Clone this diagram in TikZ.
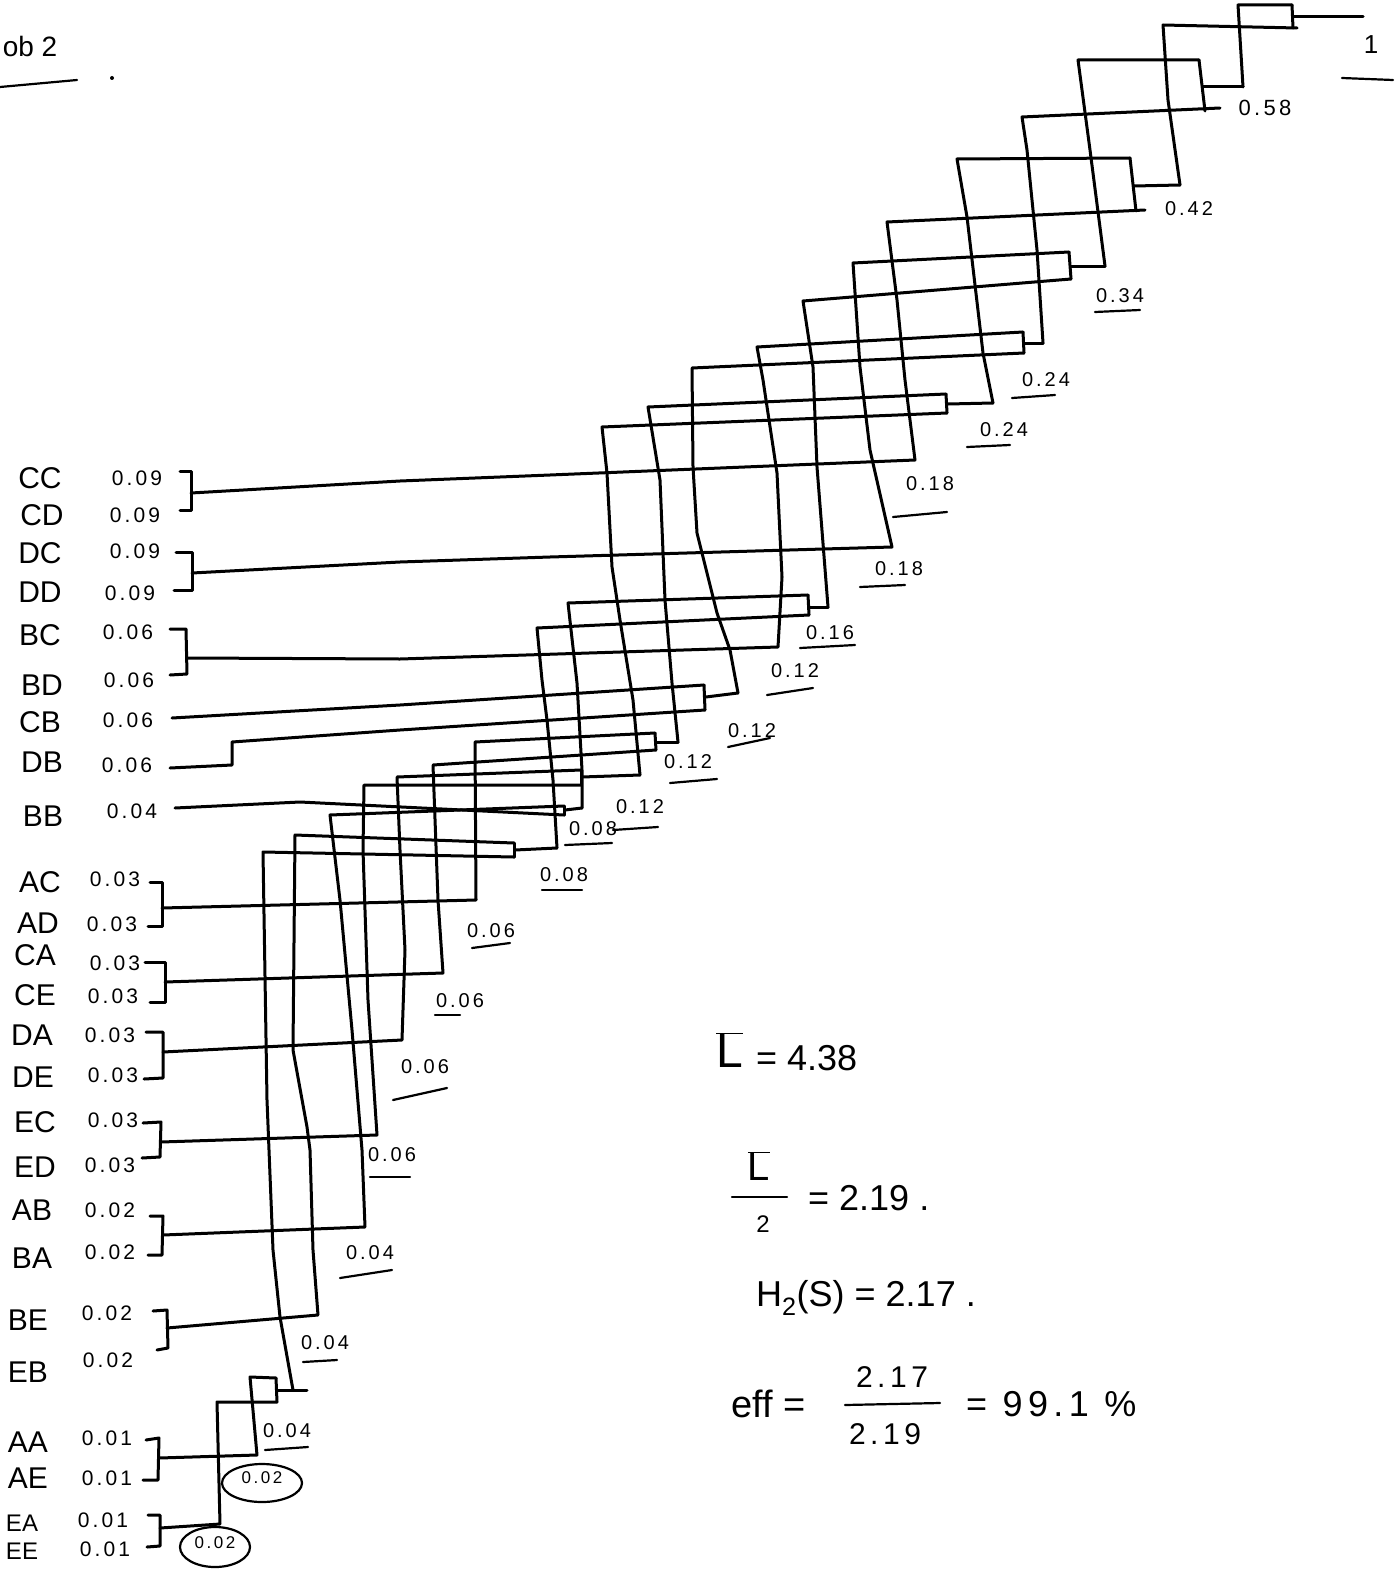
\documentclass[tikz,border=0pt]{standalone}
\usepackage{fontspec}
\setmainfont{Liberation Sans}
\newfontfamily\spacedfont[LetterSpace=15]{Liberation Sans}
\begin{document}
\begin{tikzpicture}[x=1pt,y=-1pt,
  pen/.style={line width=3pt,line cap=round,line join=round},
  thinpen/.style={line width=2.2pt,line cap=round},
  leafname/.style={inner sep=0pt,font=\fontsize{30}{32}\selectfont},
  leafval/.style={inner sep=0pt,font=\spacedfont\fontsize{21}{22}\selectfont},
  sumlab/.style={inner sep=0pt,font=\spacedfont\fontsize{20}{22}\selectfont},
  bigtxt/.style={inner sep=0pt,anchor=west,font=\fontsize{36}{40}\selectfont}]
\useasboundingbox (0,0) rectangle (1396,1573);

% title
\node[inner sep=0pt,font=\fontsize{28}{30}\selectfont] (title) at (30,46) {ob 2};
\draw[thinpen] (0,87) -- (77,80);
\fill (112,78) circle (2pt);
\node[inner sep=0pt,font=\fontsize{26}{28}\selectfont] (root) at (1371,45) {1};
\draw[thinpen] (1342,78) -- (1393,80);

% leaves
\node[leafname] (nCC) at (40,478) {CC};  \node[leafval] (vCC) at (137,478) {0.09};
\node[leafname] (nCD) at (42,515) {CD};  \node[leafval] (vCD) at (135,515) {0.09};
\node[leafname] (nDC) at (40,553) {DC};  \node[leafval] (vDC) at (135,551) {0.09};
\node[leafname] (nDD) at (40,592) {DD};  \node[leafval] (vDD) at (130,593) {0.09};
\node[leafname] (nBC) at (40,635) {BC};  \node[leafval] (vBC) at (128,632) {0.06};
\node[leafname] (nBD) at (42,685) {BD};  \node[leafval] (vBD) at (129,680) {0.06};
\node[leafname] (nCB) at (40,722) {CB};  \node[leafval] (vCB) at (128,720) {0.06};
\node[leafname] (nDB) at (42,762) {DB};  \node[leafval] (vDB) at (127,765) {0.06};
\node[leafname] (nBB) at (43,816) {BB};  \node[leafval] (vBB) at (132,811) {0.04};
\node[leafname] (nAC) at (40,882) {AC};  \node[leafval] (vAC) at (115,879) {0.03};
\node[leafname] (nAD) at (38,923) {AD};  \node[leafval] (vAD) at (112,924) {0.03};
\node[leafname] (nCA) at (35,955) {CA};  \node[leafval] (vCA) at (115,963) {0.03};
\node[leafname] (nCE) at (35,995) {CE};  \node[leafval] (vCE) at (113,996) {0.03};
\node[leafname] (nDA) at (32,1035) {DA}; \node[leafval] (vDA) at (110,1035) {0.03};
\node[leafname] (nDE) at (33,1077) {DE}; \node[leafval] (vDE) at (113,1075) {0.03};
\node[leafname] (nEC) at (35,1122) {EC}; \node[leafval] (vEC) at (113,1120) {0.03};
\node[leafname] (nED) at (35,1167) {ED}; \node[leafval] (vED) at (110,1165) {0.03};
\node[leafname] (nAB) at (32,1210) {AB}; \node[leafval] (vAB) at (110,1210) {0.02};
\node[leafname] (nBA) at (32,1258) {BA}; \node[leafval] (vBA) at (110,1252) {0.02};
\node[leafname] (nBE) at (28,1320) {BE}; \node[leafval] (vBE) at (107,1313) {0.02};
\node[leafname] (nEB) at (28,1372) {EB}; \node[leafval] (vEB) at (108,1360) {0.02};
\node[leafname] (nAA) at (28,1442) {AA}; \node[leafval] (vAA) at (107,1438) {0.01};
\node[leafname] (nAE) at (28,1478) {AE}; \node[leafval] (vAE) at (107,1478) {0.01};
\node[leafname,font=\fontsize{24}{26}\selectfont] (nEA) at (22,1523) {EA}; \node[leafval] (vEA) at (103,1520) {0.01};
\node[leafname,font=\fontsize{24}{26}\selectfont] (nEE) at (22,1551) {EE}; \node[leafval] (vEE) at (105,1549) {0.01};

% leaf brackets and junction coordinates
\draw[pen] (180,471) -- (191,471) -- (191,510) -- (180,510);   \coordinate (jCCCD) at (191,493);
\draw[pen] (176,552) -- (192,552) -- (192,590) -- (174,590);   \coordinate (jDCDD) at (192,573);
\draw[pen] (170,629) -- (186,629) -- (187,674) -- (170,675);   \coordinate (jBCBD) at (187,658);
\draw[pen] (150,882) -- (162,882) -- (162,926) -- (148,926);   \coordinate (jACAD) at (162,908);
\draw[pen] (145,962) -- (165,962) -- (165,1002) -- (150,1002); \coordinate (jCACE) at (165,982);
\draw[pen] (146,1032) -- (163,1032) -- (163,1078) -- (144,1079); \coordinate (jDADE) at (163,1052);
\draw[pen] (143,1123) -- (161,1122) -- (160,1157) -- (142,1158); \coordinate (jECED) at (161,1142);
\draw[pen] (150,1216) -- (163,1216) -- (162,1255) -- (148,1255); \coordinate (jABBA) at (163,1235);
\draw[pen] (153,1311) -- (167,1310) -- (168,1348) -- (157,1350); \coordinate (jBEEB) at (167,1328);
\draw[pen] (146,1440) -- (159,1438) -- (158,1480) -- (143,1480); \coordinate (jAAAE) at (159,1458);
\draw[pen] (148,1515) -- (160,1515) -- (160,1546) -- (147,1547); \coordinate (jEAEE) at (160,1528);
\coordinate (jCB) at (172,718);
\coordinate (jDB) at (170,768);
\coordinate (jBB) at (175,808);

% merge brackets (top, bottom, stub start, stub end)
\coordinate (m3T) at (276,1378);  \coordinate (m3B) at (277,1402);  \coordinate (m3S) at (277,1390);  \coordinate (m3O) at (307,1390);
\coordinate (m10T) at (514,843);  \coordinate (m10B) at (514,857);  \coordinate (m10S) at (515,850);  \coordinate (m10O) at (557,848);
\coordinate (m11T) at (564,806);  \coordinate (m11B) at (564,815);  \coordinate (m11S) at (565,810);  \coordinate (m11O) at (582,808);
\coordinate (m12T) at (581,770);  \coordinate (m12B) at (581,785);  \coordinate (m12S) at (582,777);  \coordinate (m12O) at (640,775);
\coordinate (m13T) at (655,733);  \coordinate (m13B) at (656,750);  \coordinate (m13S) at (657,742);  \coordinate (m13O) at (678,742);
\coordinate (m14T) at (704,685);  \coordinate (m14B) at (705,710);  \coordinate (m14S) at (706,697);  \coordinate (m14O) at (738,693);
\coordinate (m16T) at (808,595);  \coordinate (m16B) at (809,615);  \coordinate (m16S) at (810,607);  \coordinate (m16O) at (828,607);
\coordinate (m19T) at (946,394);  \coordinate (m19B) at (947,413);  \coordinate (m19S) at (948,404);  \coordinate (m19O) at (993,403);
\coordinate (m20T) at (1023,332); \coordinate (m20B) at (1024,353); \coordinate (m20S) at (1025,343); \coordinate (m20O) at (1043,343);
\coordinate (m21T) at (1069,252); \coordinate (m21B) at (1071,279); \coordinate (m21S) at (1071,266); \coordinate (m21O) at (1105,266);
\coordinate (m22T) at (1130,158); \coordinate (m22B) at (1136,211); \coordinate (m22S) at (1134,186); \coordinate (m22O) at (1180,185);
\coordinate (m23T) at (1199,60);  \coordinate (m23B) at (1205,111); \coordinate (m23S) at (1203,87);  \coordinate (m23O) at (1243,87);
\coordinate (m24T) at (1292,5);   \coordinate (m24B) at (1293,28);  \coordinate (m24S) at (1293,17);  \coordinate (m24O) at (1363,17);

\foreach \m in {3,10,11,12,13,14,16,19,20,21,22,23,24}{
  \draw[pen] (m\m T) -- (m\m B);
  \draw[pen] (m\m S) -- (m\m O);
}

% paths
\draw[pen] (jEAEE) -- (220,1524) -- (217,1402) -- (m3B);
\draw[pen] (jAAAE) -- (257,1455) -- (250,1377) -- (m3T);
\draw[pen] (293,1390) -- (280,1317) -- (273,1250) -- (267,1100) -- (263,852) -- (m10B);
\draw[pen] (jBEEB) -- (318,1315) -- (313,1250) -- (310,1150) -- (307,1127) -- (293,1050) -- (295,835) -- (m10T);
\draw[pen] (jABBA) -- (365,1227) -- (362,1150) -- (352,1030) -- (340,900) -- (330,815) -- (m11T);
\draw[pen] (jBB) -- (300,802) -- (m11B);
\draw[pen] (jECED) -- (377,1135) -- (368,1000) -- (363,850) -- (364,785) -- (m12B);
\draw[pen] (jDADE) -- (402,1040) -- (405,950) -- (400,850) -- (397,777) -- (m12T);
\draw[pen] (jCACE) -- (443,973) -- (438,900) -- (433,765) -- (m13B);
\draw[pen] (jACAD) -- (476,900) -- (475,742) -- (m13T);
\draw[pen] (jCB) -- (400,705) -- (m14T);
\draw[pen] (jDB) -- (232,765) -- (232,742) -- (400,730) -- (m14B);
\draw[pen] (m10O) -- (553,780) -- (547,720) -- (542,680) -- (537,628) -- (m16B);
\draw[pen] (m11O) -- (582,770) -- (577,683) -- (568,603) -- (m16T);
\draw[pen] (m12O) -- (633,700) -- (620,620) -- (612,567) -- (607,473) -- (602,427) -- (m19B);
\draw[pen] (m13O) -- (672,683) -- (665,600) -- (660,480) -- (648,407) -- (m19T);
\draw[pen] (m14O) -- (730,650) -- (717,613) -- (697,533) -- (693,467) -- (692,368) -- (m20B);
\draw[pen] (jBCBD) -- (400,659) -- (778,647) -- (782,577) -- (777,473) -- (763,380) -- (757,347) -- (m20T);
\draw[pen] (m16O) -- (817,467) -- (813,367) -- (803,301) -- (m21B);
\draw[pen] (jDCDD) -- (400,562) -- (550,557) -- (892,547) -- (870,450) -- (860,367) -- (853,263) -- (m21T);
\draw[pen] (jCCCD) -- (400,481) -- (550,475) -- (915,460) -- (905,380) -- (897,300) -- (887,222) -- (1145,210);
\draw[pen] (m19O) -- (983,353) -- (967,217) -- (957,159) -- (m22T);
\draw[pen] (m20O) -- (1037,250) -- (1027,150) -- (1022,117) -- (1220,108);
\draw[pen] (m21O) -- (1090,150) -- (1078,60) -- (m23T);
\draw[pen] (m22O) -- (1168,100) -- (1163,25) -- (1297,28);
\draw[pen] (m23O) -- (1238,5) -- (m24T);

% sum labels
\node[sumlab,font=\spacedfont\fontsize{22}{24}\selectfont] (s58) at (1265,108) {0.58};
\node[sumlab] (s42) at (1189,209) {0.42};
\node[sumlab] (s34) at (1120,296) {0.34};   \draw[thinpen] (1095,312) -- (1140,310);
\node[sumlab] (s24a) at (1046,380) {0.24};  \draw[thinpen] (1012,398) -- (1055,395);
\node[sumlab] (s24b) at (1004,430) {0.24};  \draw[thinpen] (967,447) -- (1010,445);
\node[sumlab] (s18a) at (930,484) {0.18};   \draw[thinpen] (893,517) -- (947,512);
\node[sumlab] (s18b) at (899,569) {0.18};   \draw[thinpen] (860,587) -- (905,585);
\node[sumlab] (s16) at (830,633) {0.16};    \draw[thinpen] (800,648) -- (855,645);
\node[sumlab] (s12a) at (795,671) {0.12};   \draw[thinpen] (767,695) -- (813,688);
\node[sumlab] (s12b) at (752,731) {0.12};   \draw[thinpen] (728,747) -- (770,738);
\node[sumlab] (s12c) at (688,762) {0.12};   \draw[thinpen] (670,783) -- (717,779);
\node[sumlab] (s12d) at (640,807) {0.12};   \draw[thinpen] (613,830) -- (658,827);
\node[sumlab] (s08a) at (593,829) {0.08};   \draw[thinpen] (565,845) -- (612,843);
\node[sumlab] (s08b) at (564,875) {0.08};   \draw[thinpen] (542,890) -- (582,890);
\node[sumlab] (s06a) at (491,931) {0.06};   \draw[thinpen] (472,948) -- (510,943);
\node[sumlab] (s06b) at (460,1001) {0.06};  \draw[thinpen] (435,1015) -- (460,1015);
\node[sumlab] (s06c) at (425,1067) {0.06};  \draw[thinpen] (393,1100) -- (447,1088);
\node[sumlab] (s06d) at (392,1155) {0.06};  \draw[thinpen] (370,1177) -- (410,1177);
\node[sumlab] (s04a) at (370,1253) {0.04};  \draw[thinpen] (340,1278) -- (392,1270);
\node[sumlab] (s04b) at (325,1343) {0.04};  \draw[thinpen] (303,1362) -- (337,1360);
\node[sumlab] (s04c) at (287,1431) {0.04};  \draw[thinpen] (265,1450) -- (308,1447);
\node[sumlab,font=\spacedfont\fontsize{17}{18}\selectfont] (s02a) at (262,1478) {0.02};
\draw[thinpen] (262,1483) ellipse [x radius=40pt, y radius=19pt];
\node[sumlab,font=\spacedfont\fontsize{17}{18}\selectfont] (s02b) at (215,1543) {0.02};
\draw[thinpen] (215,1547) ellipse [x radius=35pt, y radius=20pt];

% results
\node[bigtxt,font=\fontsize{48}{50}\selectfont] (Lbar1) at (716,1050) {$\overline{\hbox{L}}$};
\node[bigtxt] (eqA) at (756,1058) {= 4.38};
\node[inner sep=0pt,font=\fontsize{40}{42}\selectfont] (Lbar2) at (759,1166) {$\overline{\hbox{L}}$};
\draw[thinpen] (732,1197) -- (787,1197);
\node[inner sep=0pt,font=\fontsize{24}{26}\selectfont] (two) at (763,1224) {2};
\node[bigtxt] (eqB) at (808,1198) {= 2.19 .};
\node[bigtxt] (eqC) at (756,1298) {H\textsubscript{2}(S) = 2.17 .};
\node[bigtxt,font=\fontsize{38}{40}\selectfont] (eff) at (731,1404) {eff =};
\node[inner sep=0pt,font=\spacedfont\fontsize{30}{32}\selectfont] (num) at (892,1377) {2.17};
\draw[thinpen] (845,1405) -- (940,1403);
\node[inner sep=0pt,font=\spacedfont\fontsize{30}{32}\selectfont] (den) at (885,1434) {2.19};
\node[bigtxt,font=\spacedfont\fontsize{36}{40}\selectfont] (eqD) at (966,1404) {= 99.1 \%};
\end{tikzpicture}
\end{document}
